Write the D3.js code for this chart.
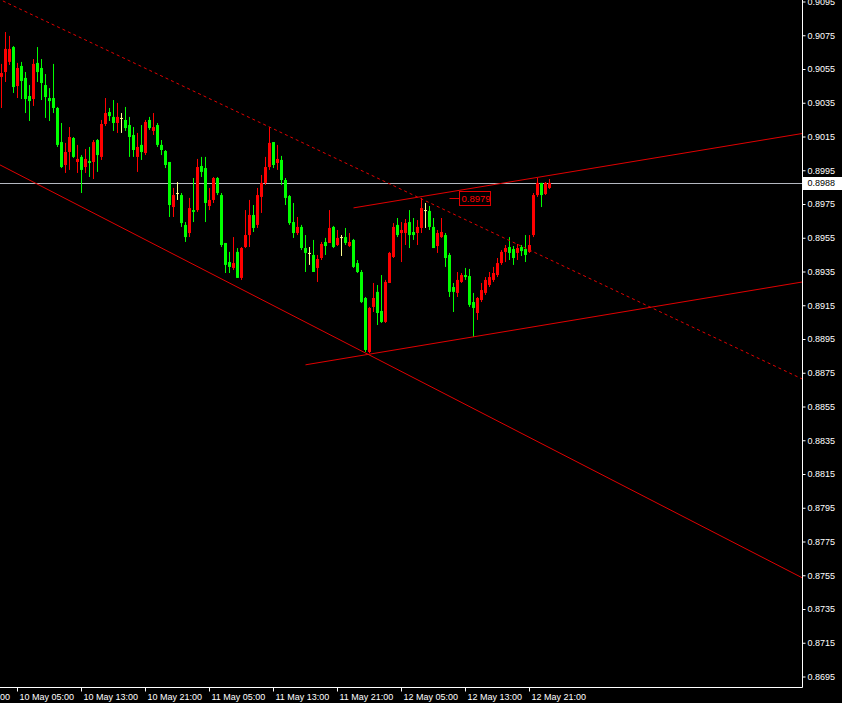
<!DOCTYPE html>
<html><head><meta charset="utf-8">
<script src="https://cdn.jsdelivr.net/npm/d3@7"></script>
<style>html,body{margin:0;padding:0;background:#000;overflow:hidden}</style>
</head><body><svg id="c" width="842" height="703"></svg>
<script>
// ---- data (M30 candles, 10 May 03:00 .. 12 May 23:30) ----
const firstBarTime = "2011-05-10T03:00";
const barMinutes = 30;
const opens = [
0.90506,0.90535,0.90595,0.90683,0.90452,0.90571,0.90500,0.90393,0.90375,0.90589,
0.90559,0.90458,0.90381,0.90381,0.90322,0.90120,0.89984,0.90061,0.90144,0.90002,
0.90032,0.89972,0.90008,0.90002,0.90132,0.90032,0.90227,0.90298,0.90269,0.90233,
0.90263,0.90251,0.90221,0.90162,0.90032,0.90103,0.90055,0.90251,0.90186,0.90221,
0.90103,0.90067,0.90002,0.89735,0.89818,0.89806,0.89629,0.89581,0.89717,0.89717,
0.89978,0.89966,0.89741,0.89777,0.89907,0.89806,0.89522,0.89409,0.89374,0.89469,
0.89315,0.89498,0.89569,0.89688,0.89629,0.89795,0.89878,0.89972,0.90120,0.89996,
0.90014,0.89895,0.89800,0.89646,0.89581,0.89617,0.89492,0.89463,0.89451,0.89374,
0.89433,0.89528,0.89522,0.89617,0.89510,0.89557,0.89557,0.89504,0.89540,0.89403,
0.89350,0.89196,0.88876,0.89143,0.89232,0.89119,0.89054,0.89285,0.89439,0.89629,
0.89581,0.89581,0.89646,0.89587,0.89581,0.89611,0.89717,0.89712,0.89617,0.89504,
0.89557,0.89569,0.89451,0.89261,0.89226,0.89291,0.89332,0.89326,0.89172,0.89107,
0.89184,0.89226,0.89273,0.89303,0.89332,0.89403,0.89469,0.89498,0.89486,0.89463,
0.89498,0.89486,0.89469,0.89569,0.89806,0.89878,0.89812,0.89848];
const highs = [
0.90583,0.90772,0.90749,0.90689,0.90589,0.90595,0.90535,0.90458,0.90612,0.90683,
0.90612,0.90523,0.90440,0.90583,0.90328,0.90233,0.90115,0.90209,0.90150,0.90103,
0.90043,0.90079,0.90091,0.90132,0.90138,0.90251,0.90381,0.90322,0.90369,0.90352,
0.90292,0.90328,0.90269,0.90209,0.90174,0.90221,0.90251,0.90269,0.90292,0.90233,
0.90132,0.90073,0.90002,0.89848,0.89883,0.89818,0.89646,0.89789,0.89907,0.90020,
0.90032,0.90032,0.89848,0.89913,0.89913,0.89818,0.89522,0.89469,0.89557,0.89492,
0.89498,0.89717,0.89777,0.89747,0.89848,0.89925,0.90032,0.90209,0.90120,0.90103,
0.90038,0.89907,0.89806,0.89759,0.89676,0.89629,0.89569,0.89498,0.89540,0.89451,
0.89528,0.89552,0.89717,0.89623,0.89599,0.89569,0.89611,0.89581,0.89546,0.89421,
0.89362,0.89202,0.89143,0.89285,0.89273,0.89332,0.89303,0.89469,0.89640,0.89670,
0.89646,0.89664,0.89717,0.89670,0.89658,0.89789,0.89759,0.89741,0.89670,0.89599,
0.89670,0.89581,0.89463,0.89285,0.89350,0.89344,0.89374,0.89368,0.89226,0.89202,
0.89285,0.89320,0.89350,0.89380,0.89433,0.89480,0.89510,0.89557,0.89504,0.89516,
0.89510,0.89569,0.89569,0.89818,0.89907,0.89878,0.89883,0.89901];
const lows = [
0.90322,0.90476,0.90577,0.90411,0.90381,0.90375,0.90292,0.90245,0.90334,0.90476,
0.90369,0.90263,0.90245,0.90292,0.90091,0.89966,0.89937,0.89955,0.90026,0.89937,
0.89818,0.89937,0.89913,0.89901,0.89943,0.90014,0.90215,0.90245,0.90186,0.90174,
0.90174,0.90186,0.90032,0.90032,0.89943,0.90014,0.90043,0.90192,0.90162,0.90091,
0.90043,0.89966,0.89676,0.89676,0.89777,0.89617,0.89528,0.89557,0.89646,0.89706,
0.89913,0.89646,0.89717,0.89759,0.89806,0.89498,0.89344,0.89344,0.89362,0.89315,
0.89303,0.89492,0.89498,0.89587,0.89611,0.89700,0.89866,0.89955,0.89966,0.89955,
0.89866,0.89747,0.89629,0.89552,0.89569,0.89480,0.89350,0.89392,0.89350,0.89291,
0.89421,0.89451,0.89522,0.89492,0.89504,0.89445,0.89510,0.89498,0.89374,0.89344,
0.89166,0.88876,0.88870,0.89113,0.89036,0.89048,0.89048,0.89285,0.89433,0.89557,
0.89409,0.89510,0.89492,0.89540,0.89510,0.89581,0.89611,0.89599,0.89492,0.89463,
0.89552,0.89380,0.89202,0.89113,0.89202,0.89285,0.89303,0.89143,0.88965,0.89066,
0.89172,0.89214,0.89261,0.89291,0.89320,0.89392,0.89409,0.89421,0.89392,0.89421,
0.89445,0.89409,0.89463,0.89557,0.89795,0.89735,0.89806,0.89842];
const closes = [
0.90529,0.90672,0.90672,0.90446,0.90559,0.90482,0.90375,0.90363,0.90583,0.90535,
0.90470,0.90387,0.90363,0.90322,0.90103,0.89972,0.90061,0.90150,0.90032,0.90020,
0.89955,0.90020,0.89996,0.90120,0.90043,0.90227,0.90292,0.90274,0.90233,0.90269,
0.90263,0.90203,0.90150,0.90073,0.90091,0.90061,0.90239,0.90203,0.90209,0.90103,
0.90073,0.89984,0.89747,0.89806,0.89818,0.89640,0.89557,0.89729,0.89706,0.89972,
0.89943,0.89759,0.89777,0.89907,0.89818,0.89510,0.89392,0.89380,0.89403,0.89315,
0.89492,0.89569,0.89688,0.89611,0.89806,0.89878,0.89972,0.90115,0.89984,0.90020,
0.89895,0.89789,0.89640,0.89581,0.89617,0.89492,0.89463,0.89463,0.89350,0.89427,
0.89516,0.89504,0.89611,0.89498,0.89552,0.89557,0.89522,0.89528,0.89380,0.89350,
0.89172,0.88888,0.89137,0.89196,0.89107,0.89054,0.89291,0.89463,0.89617,0.89569,
0.89599,0.89640,0.89569,0.89569,0.89617,0.89729,0.89717,0.89617,0.89492,0.89581,
0.89587,0.89433,0.89232,0.89232,0.89303,0.89332,0.89320,0.89155,0.89137,0.89196,
0.89243,0.89303,0.89320,0.89344,0.89403,0.89469,0.89492,0.89463,0.89433,0.89492,
0.89474,0.89451,0.89510,0.89806,0.89878,0.89806,0.89878,0.89878];

const priceTicks = [0.9095,0.9075,0.9055,0.9035,0.9015,0.8995,0.8975,0.8955,0.8935,0.8915,
                    0.8895,0.8875,0.8855,0.8835,0.8815,0.8795,0.8775,0.8755,0.8735,0.8715,0.8695];
const timeTicks = ["2011-05-09T21:00","2011-05-10T05:00","2011-05-10T13:00","2011-05-10T21:00",
                   "2011-05-11T05:00","2011-05-11T13:00","2011-05-11T21:00","2011-05-12T05:00",
                   "2011-05-12T13:00","2011-05-12T21:00"];
const bidPrice = 0.8988;
// trend lines: [bar index, price] anchor pairs
const channelTop    = [[67, 0.90209], [105, 0.89783]];   // dotted, both directions
const channelBottom = [[0, 0.8998], [200, 0.8754]];      // both directions
const resistance    = [[88, 0.8973], [200, 0.9017]];     // ray to the right
const support       = [[76, 0.8880], [200, 0.8929]];     // ray to the right
const priceLabel = {bar: 112, price: 0.8979, text: "0.8979"};

// ---- layout ----
const W = 842, H = 703, plotR = 802, plotB = 687;
const parse = d3.timeParse("%Y-%m-%dT%H:%M");
const t0 = parse(firstBarTime);
const barTime = k => new Date(t0.getTime() + k * barMinutes * 60000);
const n = opens.length;
const lineColor = "#e00000";

const x = d3.scaleTime().domain([barTime(0), barTime(n - 1)]).range([1.5, 1.5 + 4 * (n - 1)]);
const y = d3.scaleLinear().domain([0.8695, 0.9095]).range([677, 2]);

const svg = d3.select("#c");
svg.append("rect").attr("width", W).attr("height", H).attr("fill", "#000");
svg.append("defs").append("clipPath").attr("id", "plot")
  .append("rect").attr("x", 0).attr("y", 0).attr("width", plotR).attr("height", plotB);

const plot = svg.append("g").attr("clip-path", "url(#plot)");

// bid line
plot.append("line").attr("x1", 0).attr("x2", plotR)
  .attr("y1", Math.round(y(bidPrice)) + 0.5).attr("y2", Math.round(y(bidPrice)) + 0.5)
  .attr("stroke", "#b4b8c0").attr("stroke-width", 1);

// candles
const bars = d3.range(n).map(k => ({k, o: opens[k], h: highs[k], l: lows[k], c: closes[k]}));
const col = d => d.c > d.o ? "#ff0000" : (d.c < d.o ? "#00ff00" : "#ffff90");
const cg = plot.append("g");
cg.selectAll("line.w").data(bars).join("line").attr("class", "w")
  .attr("x1", d => x(barTime(d.k))).attr("x2", d => x(barTime(d.k)))
  .attr("y1", d => y(d.h)).attr("y2", d => y(d.l))
  .attr("stroke", col).attr("stroke-width", 1);
cg.selectAll("rect.b").data(bars).join("rect").attr("class", "b")
  .attr("x", d => x(barTime(d.k)) - 1.5).attr("width", 3)
  .attr("y", d => y(Math.max(d.o, d.c)))
  .attr("height", d => Math.max(1, Math.abs(y(d.o) - y(d.c))))
  .attr("fill", col);

// trend lines
function lineAt(pts, k) {
  const [[k1, p1], [k2, p2]] = pts;
  return p1 + (p2 - p1) * (k - k1) / (k2 - k1);
}
function drawTrend(pts, kFrom, kTo, dash) {
  plot.append("line")
    .attr("x1", x(barTime(kFrom))).attr("y1", y(lineAt(pts, kFrom)))
    .attr("x2", x(barTime(kTo))).attr("y2", y(lineAt(pts, kTo)))
    .attr("stroke", lineColor).attr("stroke-width", 1)
    .attr("stroke-dasharray", dash || null);
}
drawTrend(channelTop, -20, 215, "3,3");
drawTrend(channelBottom, -20, 215);
drawTrend(resistance, resistance[0][0], 215);
drawTrend(support, support[0][0], 215);

// price label object
const font = "Liberation Sans, Arial, sans-serif";
const lx = x(barTime(priceLabel.bar)), ly = Math.round(y(priceLabel.price));
plot.append("line").attr("x1", lx).attr("x2", lx + 10).attr("y1", ly + 0.5).attr("y2", ly + 0.5)
  .attr("stroke", lineColor);
plot.append("rect").attr("x", lx + 10).attr("y", ly - 6.5).attr("width", 31).attr("height", 14)
  .attr("fill", "none").attr("stroke", lineColor);
plot.append("text").attr("x", lx + 12).attr("y", ly + 1).attr("dy", "0.35em")
  .attr("fill", "#ff0000").attr("font-family", font).attr("font-size", "9.5px")
  .text(priceLabel.text);

// axes frame
svg.append("line").attr("x1", plotR + 0.5).attr("x2", plotR + 0.5).attr("y1", 0).attr("y2", plotB + 0.5)
  .attr("stroke", "#fff");
svg.append("line").attr("x1", 0).attr("x2", plotR + 0.5).attr("y1", plotB + 0.5).attr("y2", plotB + 0.5)
  .attr("stroke", "#fff");

const yAxis = d3.axisRight(y).tickValues(priceTicks).tickFormat(d3.format(".4f"))
  .tickSize(3).tickPadding(2).offset(0);
const gy = svg.append("g").attr("transform", `translate(${plotR + 0.5},0)`).call(yAxis);
gy.select(".domain").remove();
gy.selectAll(".tick line").attr("stroke", "#fff");
gy.selectAll(".tick text").attr("fill", "#fff").attr("font-family", font).attr("font-size", "9px");

const xAxis = d3.axisBottom(x).tickValues(timeTicks.map(parse))
  .tickFormat(d3.timeFormat("%d %b %H:%M")).tickSize(4).offset(0);
const gx = svg.append("g").attr("transform", `translate(0,${plotB + 0.5})`).call(xAxis);
gx.select(".domain").remove();
gx.selectAll(".tick line").attr("stroke", "#fff");
gx.selectAll(".tick text").attr("fill", "#fff").attr("font-family", font).attr("font-size", "9px")
  .attr("text-anchor", "start").attr("x", 2).attr("y", 5).attr("dy", "0.85em");

// bid label on price axis
const by = y(bidPrice);
svg.append("rect").attr("x", plotR + 1).attr("y", Math.round(by) - 6).attr("width", 39).attr("height", 13).attr("fill", "#fff");
svg.append("text").attr("x", plotR + 5.5).attr("y", by).attr("dy", "0.35em")
  .attr("fill", "#000").attr("font-family", font).attr("font-size", "9px").text(d3.format(".4f")(bidPrice));
</script></body></html>
